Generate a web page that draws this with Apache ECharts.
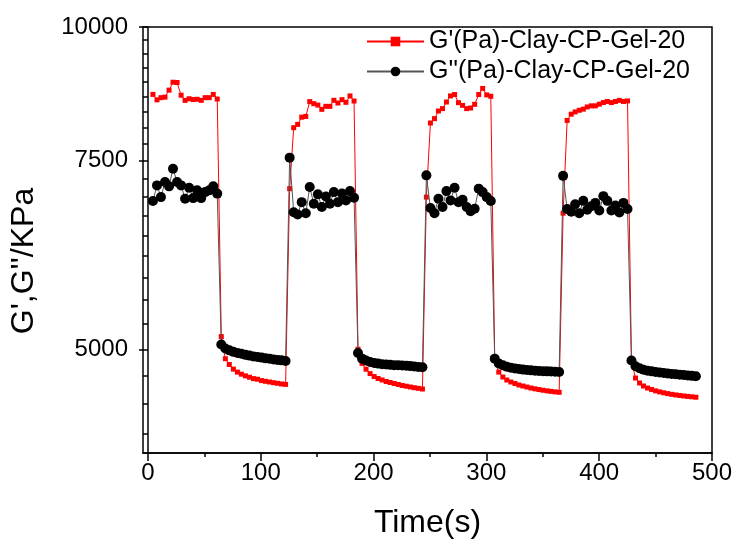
<!DOCTYPE html>
<html>
<head>
<meta charset="utf-8">
<script src="https://cdn.jsdelivr.net/npm/echarts@6/dist/echarts.min.js"></script>
<style>
html,body{margin:0;padding:0;background:#fff;}
#chart{width:737px;height:541px;}
</style>
</head>
<body>
<div id="chart"></div>
<script>
// Time (s)
var timeS = [4.4,8.0,11.5,15.1,18.7,22.2,25.8,29.4,32.9,36.5,40.1,43.6,47.2,50.7,54.3,57.9,61.4,
65.0,68.6,72.1,75.7,79.3,82.8,86.4,90.0,93.5,97.1,100.7,104.2,107.8,111.4,114.9,118.5,122.0,
125.6,129.2,132.7,136.3,139.9,143.4,147.0,150.6,154.1,157.7,161.3,164.8,168.4,172.0,175.5,179.1,182.7,
186.2,189.8,193.3,196.9,200.5,204.0,207.6,211.2,214.7,218.3,221.9,225.4,229.0,232.6,236.1,239.7,243.3,
246.8,250.4,254.0,257.5,261.1,264.6,268.2,271.8,275.3,278.9,282.5,286.0,289.6,293.2,296.7,300.3,303.9,
307.4,311.0,314.6,318.1,321.7,325.3,328.8,332.4,335.9,339.5,343.1,346.6,350.2,353.8,357.3,360.9,364.5,
368.0,371.6,375.2,378.7,382.3,385.9,389.4,393.0,396.6,400.1,403.7,407.2,410.8,414.4,417.9,421.5,425.1,
428.6,432.2,435.8,439.3,442.9,446.5,450.0,453.6,457.2,460.7,464.3,467.9,471.4,475.0,478.5,482.1,485.7];

// G' (red squares)
var gPrime = [
8650,8550,8590,8600,8730,8880,8875,8635,8540,8570,8555,8560,8540,8590,8590,8650,8565,
5138,4899,4839,4791,4760,4739,4722,4708,4694,4688,4674,4667,4660,4653,4647,4640,4636,
7063,8053,8110,8237,8250,8517,8480,8454,8377,8431,8431,8541,8491,8553,8504,8622,8528,
5000,4850,4790,4745,4715,4695,4680,4665,4655,4645,4635,4625,4618,4610,4603,4597,4590,
6936,8134,8211,8347,8390,8510,8622,8648,8498,8449,8390,8401,8467,8648,8762,8641,8616,
4900,4760,4710,4680,4660,4645,4630,4620,4610,4600,4592,4585,4578,4572,4567,4562,4558,
6700,8180,8290,8330,8360,8380,8420,8440,8440,8470,8500,8520,8500,8520,8540,8520,8530,
4870,4700,4650,4620,4600,4585,4572,4562,4553,4545,4538,4532,4527,4522,4518,4514,4510];

// G'' (black circles)
var gDouble = [
6877,7113,6936,7164,7098,7373,7164,7113,6912,7078,6921,7037,6921,7011,7037,7098,6988,
5052,5009,4988,4972,4961,4951,4940,4932,4924,4917,4911,4903,4898,4892,4887,4882,4876,
7550,6714,6681,6861,6700,7087,6837,6977,6789,6946,6837,7011,6861,6988,6887,7026,6927,
4960,4900,4880,4865,4855,4848,4842,4838,4835,4832,4830,4828,4825,4822,4818,4814,4810,
7268,6774,6700,6912,6789,7026,6887,7078,6861,6897,6789,6729,6765,7063,7011,6936,6877,
4900,4850,4830,4815,4805,4798,4792,4786,4782,4778,4775,4772,4770,4768,4766,4764,4762,
7260,6760,6720,6830,6700,6880,6750,6800,6850,6740,6950,6880,6740,6810,6710,6850,6760,
4880,4820,4800,4785,4775,4768,4762,4756,4751,4746,4742,4738,4734,4730,4726,4722,4718];

var seriesNames = ["G'(Pa)-Clay-CP-Gel-20", "G''(Pa)-Clay-CP-Gel-20"];
var xMajorTicks = [0,100,200,300,400,500];
var xMinorTicks = [50,150,250,350,450];
var yMajorTicks = [5000,7500,10000];
var yMinorTicks = [4167,4444,4722,5278,5556,5833,6111,6389,6667,6944,7222,7778,8056,8333,8611,8889,9167,9444,9722];

function zip(xs, ys){ return xs.map(function(x,i){ return [x, ys[i]]; }); }

var FONT = 'Liberation Sans, Arial, sans-serif';
var chart = echarts.init(document.getElementById('chart'), null, {renderer:'canvas'});
var axisLine = {show:true, lineStyle:{color:'#000', width:1.5}};
chart.setOption({
  backgroundColor:'#fff',
  animation:false,
  textStyle:{fontFamily:FONT},
  grid:{left:143, right:25, top:27, bottom:88, show:true, borderColor:'#000', borderWidth:1.5,
        containLabel:false, outerBoundsMode:'none'},
  legend:{
    orient:'vertical', left:366, top:29, padding:0, itemGap:5,
    itemWidth:57, itemHeight:12,
    textStyle:{fontFamily:FONT, fontSize:25, color:'#000', lineHeight:25},
    data:seriesNames
  },
  xAxis:[{
    type:'value', min:-4.4, max:500,
    name:'Time(s)', nameLocation:'middle', nameGap:54,
    nameTextStyle:{fontFamily:FONT, fontSize:32, color:'#000'},
    axisLine:axisLine,
    axisTick:{show:true, inside:false, length:8, customValues:xMajorTicks, lineStyle:{color:'#000', width:1.5}},
    axisLabel:{show:true, customValues:xMajorTicks, margin:8, fontFamily:FONT, fontSize:24, color:'#000'},
    splitLine:{show:false}
  },{
    type:'value', min:-4.4, max:500, position:'bottom',
    axisLine:{show:false},
    axisTick:{show:true, inside:false, length:4, customValues:xMinorTicks, lineStyle:{color:'#000', width:1.5}},
    axisLabel:{show:false},
    splitLine:{show:false}
  }],
  yAxis:[{
    type:'log', logBase:10, min:4000, max:10000,
    name:"G',G''/KPa", nameLocation:'middle', nameGap:103, nameRotate:90,
    nameTextStyle:{fontFamily:FONT, fontSize:32, color:'#000', padding:[0,42,0,0]},
    axisLine:axisLine,
    axisTick:{show:true, inside:false, length:9, customValues:yMajorTicks, lineStyle:{color:'#000', width:1.5}},
    axisLabel:{show:true, customValues:yMajorTicks, margin:15, fontFamily:FONT, fontSize:24, color:'#000',
      formatter:function(v){ return String(Math.round(v)); }},
    splitLine:{show:false}, minorTick:{show:false}
  },{
    type:'log', logBase:10, min:4000, max:10000, position:'left',
    axisLine:{show:false},
    axisTick:{show:true, inside:false, length:5, customValues:yMinorTicks, lineStyle:{color:'#000', width:1.5}},
    axisLabel:{show:false},
    splitLine:{show:false}
  }],
  series:[{
    name:seriesNames[0], type:'line', xAxisIndex:0, yAxisIndex:0,
    data:zip(timeS, gPrime),
    symbol:'rect', symbolSize:5, showAllSymbol:true,
    lineStyle:{color:'#ff0000', width:1},
    itemStyle:{color:'#ff0000'},
    z:2
  },{
    name:seriesNames[1], type:'line', xAxisIndex:0, yAxisIndex:0,
    data:zip(timeS, gDouble),
    symbol:'circle', symbolSize:10, showAllSymbol:true,
    lineStyle:{color:'#555', width:1},
    itemStyle:{color:'#000'},
    z:3
  }]
});
</script>
</body>
</html>
